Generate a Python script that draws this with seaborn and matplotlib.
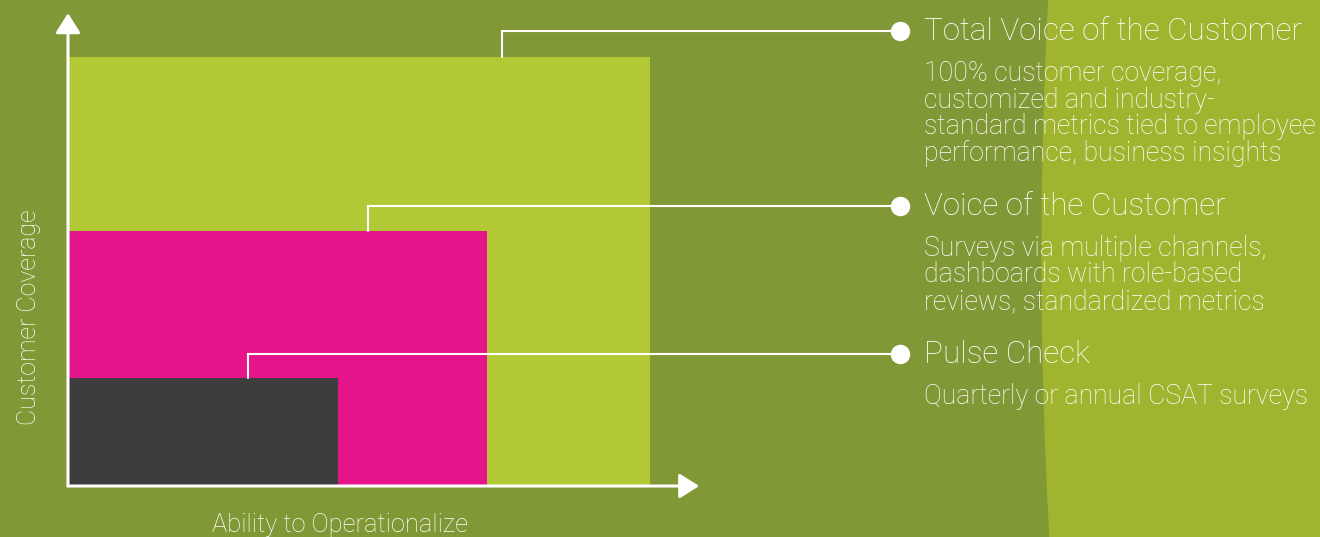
import matplotlib
matplotlib.use("Agg")
import matplotlib.pyplot as plt
import numpy as np
import seaborn as sns
from matplotlib.patches import Polygon

# tiers, drawn largest first so the smaller ones sit on top
tiers = ["Total Voice of the Customer", "Voice of the Customer", "Pulse Check"]
ability = [93.9, 67.6, 43.5]      # x extent (Ability to Operationalize)
coverage = [91.3, 54.3, 23.0]     # y extent (Customer Coverage)
descriptions = [
    "100% customer coverage,\ncustomized and industry-\nstandard metrics tied to employee\nperformance, business insights",
    "Surveys via multiple channels,\ndashboards with role-based\nreviews, standardized metrics",
    "Quarterly or annual CSAT surveys",
]
leader_x = [70.0, 48.4, 29.0]     # where the leader leaves each box
label_y = [96.8, 59.6, 28.1]      # height of each label's dot

colors = ["#b2c935", "#e6148a", "#3d3d3d"]
bg = "#819836"
bg_light = "#a0b42f"

sns.set_theme(style="white")
plt.rcParams["font.family"] = ["Roboto", "DejaVu Sans"]
plt.rcParams["font.weight"] = "light"

W, H = 1320, 537
fig = plt.figure(figsize=(W / 100, H / 100), dpi=100)
fig.patch.set_facecolor(bg)
ax = fig.add_axes([0, 0, 1, 1])
ax.set_facecolor(bg)

# pixel mapping: x=0 at px 68, 6.2 px per unit; y=0 at px 486 from top, 4.7 px per unit
sx, sy = 6.2, 4.7
ox, oy = 68, H - 486
ax.set_xlim(-ox / sx, (W - ox) / sx)
ax.set_ylim(-oy / sy, (H - oy) / sy)
ax.axis("off")

# lighter curved band on the right
t = np.linspace(0, 1, 50)
edge = 0.794 - 0.022 * t * (1 - t) + 0.001 * t
pts = [(e, 1 - tt) for e, tt in zip(edge, t)] + [(1, 0), (1, 1)]
ax.add_patch(Polygon(pts, closed=True, transform=ax.transAxes,
                     facecolor=bg_light, edgecolor="none", zorder=0))

ax.bar([0] * 3, coverage, width=ability, align="edge", color=colors,
       edgecolor="none", zorder=2)

# axes with arrowheads
arrow = dict(arrowstyle="-|>,head_length=0.6,head_width=0.38", color="white",
             lw=2.2, mutation_scale=20, shrinkA=0, shrinkB=0)
ax.annotate("", xy=(101.8, 0), xytext=(0, 0), arrowprops=arrow, zorder=5)
ax.annotate("", xy=(0, 100.6), xytext=(0, 0), arrowprops=arrow, zorder=5)

ax.text(43.9, -8.4, "Ability to Operationalize", color="white", fontsize=18.4,
        ha="center", va="center")
ax.text(-6.3, 35.9, "Customer Coverage", color="white", fontsize=18,
        ha="center", va="center", rotation=90)

dot_x = (900 - ox) / sx
text_x = (924 - ox) / sx
for name, desc, lx, ly, cy in zip(tiers, descriptions, leader_x, label_y, coverage):
    ax.plot([lx, lx, dot_x], [cy, ly, ly], color="white", lw=1.5, zorder=4,
            solid_joinstyle="miter")
    ax.plot(dot_x, ly, "o", color="white", ms=13, zorder=5)
    ax.text(text_x, ly - 9 / sy, name, color="white", fontsize=22.6,
            ha="left", va="baseline")
    ax.text(text_x, ly - 29 / sy, desc, color="white", fontsize=19.2,
            ha="left", va="top", linespacing=0.98)

fig.savefig("out.png", dpi=100, facecolor=bg)
